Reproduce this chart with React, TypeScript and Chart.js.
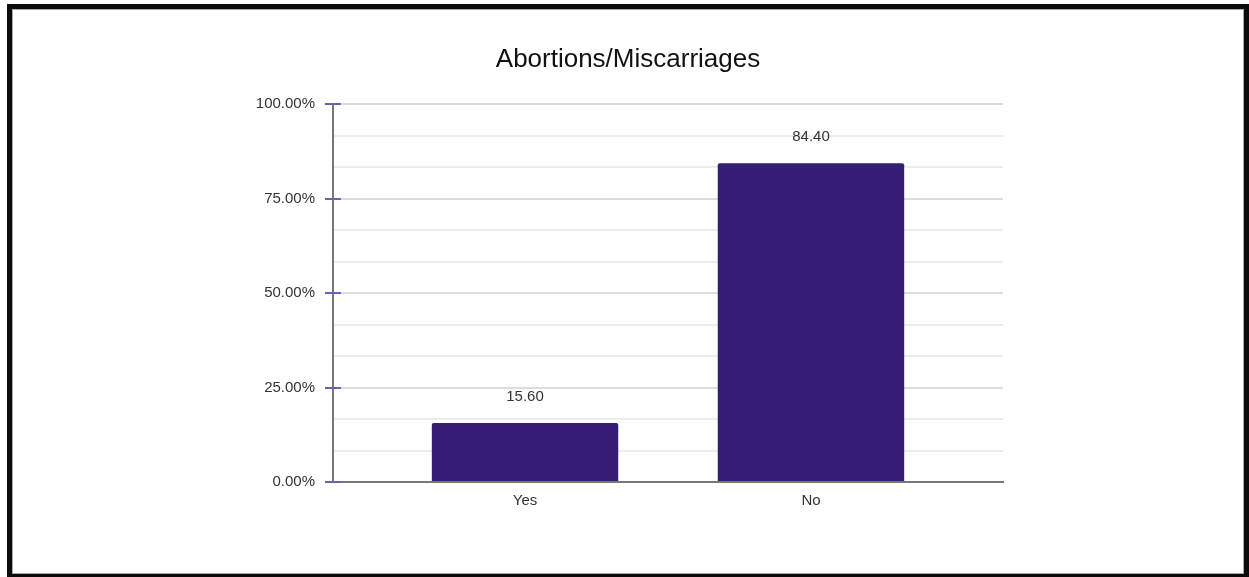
import React, { useEffect, useRef } from "react";
import { Chart, registerables } from "chart.js";

Chart.register(...registerables);

const chartTitle = "Abortions/Miscarriages";
const categories = ["Yes", "No"];
const percentages = [15.6, 84.4];
const yGridStep = 25 / 3;
const yMajorTicks = [0, 25, 50, 75, 100];

const FONT = "'Liberation Sans', Arial, Helvetica, sans-serif";
const BAR_COLOR = "#351c75";
const TICK_MARK_COLOR = "#6e5fb0";

const majorOf = (v: number) =>
  yMajorTicks.find((m) => Math.abs(m - v) < 1e-6);
const isMajor = (v: number) => majorOf(v) !== undefined;

// Short purple tick marks that straddle the value axis at the labelled ticks
const majorTickMarks = {
  id: "majorTickMarks",
  afterDraw(chart: any) {
    const { ctx, chartArea, scales } = chart;
    const y = scales.y;
    ctx.save();
    ctx.strokeStyle = TICK_MARK_COLOR;
    ctx.lineWidth = 2;
    yMajorTicks.forEach((v) => {
      const py = Math.round(y.getPixelForValue(v));
      ctx.beginPath();
      ctx.moveTo(chartArea.left - 8, py);
      ctx.lineTo(chartArea.left + 8, py);
      ctx.stroke();
    });
    ctx.restore();
  },
};

// Value labels above each bar
const barValueLabels = {
  id: "barValueLabels",
  afterDatasetsDraw(chart: any) {
    const { ctx } = chart;
    const meta = chart.getDatasetMeta(0);
    ctx.save();
    ctx.font = `15px ${FONT}`;
    ctx.fillStyle = "#333333";
    ctx.textAlign = "center";
    ctx.textBaseline = "middle";
    meta.data.forEach((bar: any, i: number) => {
      ctx.fillText(percentages[i].toFixed(2), bar.x, bar.y - 26);
    });
    ctx.restore();
  },
};

function BarChart() {
  const canvasRef = useRef<HTMLCanvasElement | null>(null);

  useEffect(() => {
    if (!canvasRef.current) return;
    const chart = new Chart(canvasRef.current, {
      type: "bar",
      data: {
        datasets: [
          {
            data: percentages.map((v, i) => ({ x: i, y: v })),
            backgroundColor: BAR_COLOR,
            borderRadius: 2,
            borderSkipped: "bottom",
            categoryPercentage: 0.8,
            barPercentage: 0.815,
          },
        ],
      },
      options: {
        responsive: false,
        animation: false,
        layout: { padding: { left: 0, right: 0, top: 0, bottom: 53 } },
        plugins: {
          legend: { display: false },
          tooltip: { enabled: false },
          title: {
            display: true,
            text: chartTitle,
            color: "#111111",
            font: { family: FONT, size: 26, weight: "normal" },
            padding: { top: 34, bottom: 29 },
          },
        },
        scales: {
          x: {
            type: "linear",
            min: -0.6716,
            max: categories.length - 1 + 0.6716,
            offset: false,
            afterBuildTicks: (axis: any) => {
              axis.ticks = categories.map((_, i) => ({ value: i }));
            },
            grid: { display: false, drawTicks: false },
            border: { display: true, color: "#777777", width: 2 },
            ticks: {
              autoSkip: false,
              padding: 10,
              color: "#333333",
              font: { family: FONT, size: 15 },
              callback: (v: any) => categories[Math.round(Number(v))] ?? "",
            },
          },
          y: {
            min: 0,
            max: 100,
            afterFit: (axis: any) => {
              axis.width = 320;
            },
            grid: {
              drawTicks: true,
              tickLength: 8,
              tickColor: "transparent",
              lineWidth: 2,
              color: (c: any) =>
                isMajor(c.tick?.value) ? "#dcdcdc" : "#ececec",
            },
            border: { display: true, color: "#777777", width: 2 },
            ticks: {
              stepSize: yGridStep,
              autoSkip: false,
              padding: 10,
              color: "#333333",
              font: { family: FONT, size: 15 },
              callback: (v: any) => {
                const m = majorOf(Number(v));
                return m !== undefined ? `${m.toFixed(2)}%` : "";
              },
            },
          },
          // empty right-hand gutter, keeps the title centred on the full width
          gutter: {
            type: "linear",
            position: "right",
            display: true,
            afterFit: (axis: any) => {
              axis.width = 240;
            },
            grid: { display: false, drawTicks: false },
            border: { display: false },
            ticks: { display: false },
          },
        },
      },
      plugins: [majorTickMarks, barValueLabels],
    } as any);
    return () => chart.destroy();
  }, []);

  return <canvas ref={canvasRef} width={1230} height={563} style={{ display: "block" }} />;
}

export default function App() {
  return (
    <div
      style={{
        position: "fixed",
        left: 7,
        top: 4,
        width: 1242,
        height: 575,
        boxSizing: "border-box",
        border: "5px solid #0b0b0b",
        background: "#ffffff",
      }}
    >
      <div
        style={{
          width: "100%",
          height: "100%",
          boxSizing: "border-box",
          border: "1px solid #a8a8a8",
        }}
      >
        <BarChart />
      </div>
    </div>
  );
}
